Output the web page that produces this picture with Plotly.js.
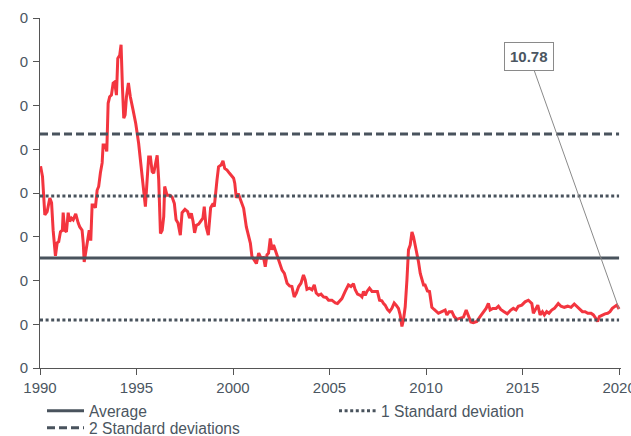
<!DOCTYPE html>
<html>
<head>
<meta charset="utf-8">
<script src="https://cdn.plot.ly/plotly-3.0.1.min.js"></script>
<style>html,body{margin:0;padding:0;background:#fff;}#chart{width:631px;height:436px;}</style>
</head>
<body>
<div id="chart"></div>
<script>
const years = [1990.03,1990.13,1990.25,1990.37,1990.51,1990.60,1990.68,1990.80,1990.89,1990.97,1991.06,1991.16,1991.20,1991.28,1991.37,1991.46,1991.54,1991.63,1991.72,1991.85,1991.98,1992.06,1992.18,1992.24,1992.29,1992.37,1992.46,1992.55,1992.63,1992.70,1992.78,1992.87,1992.96,1993.04,1993.13,1993.22,1993.27,1993.37,1993.46,1993.53,1993.61,1993.70,1993.79,1993.87,1993.96,1994.03,1994.13,1994.20,1994.27,1994.34,1994.41,1994.48,1994.58,1994.68,1994.82,1994.96,1995.11,1995.29,1995.37,1995.46,1995.55,1995.63,1995.72,1995.81,1995.89,1995.98,1996.07,1996.15,1996.24,1996.33,1996.41,1996.46,1996.58,1996.72,1996.84,1996.96,1997.05,1997.15,1997.27,1997.36,1997.51,1997.65,1997.75,1997.84,1997.93,1998.01,1998.10,1998.22,1998.32,1998.44,1998.51,1998.60,1998.72,1998.84,1998.97,1999.03,1999.17,1999.25,1999.38,1999.48,1999.57,1999.69,1999.82,1999.95,2000.03,2000.09,2000.17,2000.27,2000.41,2000.55,2000.69,2000.81,2000.90,2000.98,2001.10,2001.21,2001.33,2001.45,2001.58,2001.67,2001.76,2001.84,2001.93,2002.02,2002.10,2002.19,2002.28,2002.41,2002.54,2002.66,2002.80,2002.93,2003.05,2003.17,2003.28,2003.40,2003.52,2003.65,2003.74,2003.83,2003.96,2004.09,2004.21,2004.31,2004.43,2004.56,2004.69,2004.83,2004.95,2005.12,2005.30,2005.41,2005.55,2005.64,2005.81,2005.98,2006.11,2006.24,2006.33,2006.45,2006.59,2006.68,2006.76,2006.85,2006.94,2007.07,2007.20,2007.37,2007.48,2007.59,2007.71,2007.80,2007.88,2008.00,2008.11,2008.23,2008.35,2008.45,2008.57,2008.66,2008.75,2008.83,2008.92,2009.01,2009.09,2009.18,2009.27,2009.35,2009.44,2009.52,2009.61,2009.70,2009.78,2009.87,2009.95,2010.07,2010.18,2010.30,2010.42,2010.56,2010.64,2010.82,2010.99,2011.08,2011.20,2011.34,2011.46,2011.59,2011.77,2011.94,2012.08,2012.20,2012.32,2012.45,2012.63,2012.80,2012.97,2013.11,2013.23,2013.32,2013.46,2013.63,2013.75,2013.87,2014.04,2014.21,2014.39,2014.52,2014.66,2014.78,2014.96,2015.13,2015.30,2015.48,2015.56,2015.68,2015.79,2015.91,2016.03,2016.13,2016.25,2016.37,2016.51,2016.65,2016.77,2016.85,2016.99,2017.16,2017.34,2017.51,2017.68,2017.81,2017.98,2018.10,2018.24,2018.38,2018.55,2018.67,2018.79,2018.89,2018.98,2019.13,2019.27,2019.41,2019.53,2019.65,2019.79,2019.88,2020.00];
const values = [36.9,35.0,28.0,28.6,31.1,30.2,25.2,20.5,22.9,23.1,24.9,25.2,28.4,25.2,24.9,28.4,26.8,27.4,27.1,28.2,26.5,25.8,25.2,22.9,19.4,21.0,23.4,25.2,23.3,29.8,29.8,29.3,32.5,33.2,35.7,37.5,40.8,40.8,39.6,48.4,49.6,49.9,52.1,52.3,49.9,56.6,57.2,59.1,51.4,45.7,46.3,49.6,52.1,49.6,47.2,44.7,41.1,35.0,31.3,29.5,34.4,38.6,38.6,35.9,35.6,37.7,38.9,34.4,24.6,25.2,27.7,33.2,31.6,31.6,31.3,30.1,27.1,26.5,24.3,28.4,29.0,28.6,27.4,28.3,26.8,24.7,26.1,26.3,26.8,27.4,29.5,25.9,24.3,29.3,30.1,29.5,34.4,36.8,37.1,37.9,36.5,36.2,35.6,35.0,34.7,33.8,31.1,31.9,30.7,29.2,25.8,24.0,22.8,20.4,19.7,19.1,21.0,20.1,20.2,18.5,20.7,21.0,23.7,21.6,22.5,21.6,20.7,19.1,17.9,17.3,15.5,15.0,14.9,13.0,13.7,14.9,15.5,17.0,16.1,14.4,14.6,14.3,15.2,13.7,13.3,13.5,13.0,12.9,12.4,12.4,11.9,11.8,12.4,12.7,14.0,15.2,14.9,15.4,14.3,13.5,13.3,13.0,14.0,13.3,14.0,14.6,14.0,14.0,14.0,12.4,12.3,11.8,11.5,10.7,10.3,10.9,11.9,11.5,10.9,9.7,7.6,8.8,11.2,16.1,21.6,22.5,24.9,24.0,22.5,21.0,19.4,17.3,16.4,15.2,15.2,14.1,14.0,11.1,10.7,10.3,10.0,10.3,10.6,9.7,10.3,10.3,9.4,8.9,9.1,9.3,10.6,9.4,8.4,8.3,8.5,9.4,10.3,10.9,11.8,10.6,10.9,10.9,11.3,10.7,10.3,9.9,10.6,10.9,10.6,11.3,11.5,12.1,12.4,11.8,10.0,10.9,11.5,9.7,10.3,9.7,10.3,10.0,10.6,10.9,11.5,11.8,11.3,11.1,11.3,11.1,11.7,11.3,10.6,10.3,10.3,10.0,10.0,9.7,9.1,8.5,9.4,9.7,9.9,10.0,10.3,10.9,11.2,11.5,10.78];

const average = 20.1;
const oneSdLow = 8.78;
const oneSdHigh = 31.45;
const twoSdHigh = 42.8;
const refStart = 1990;
const refEnd = 2020;

const xTickVals = [1990, 1995, 2000, 2005, 2010, 2015, 2020];
const xTickText = ["1990", "1995", "2000", "2005", "2010", "2015", "2020"];
const yTickVals = [0, 8, 16, 24, 32, 40, 48, 56, 64];
const yTickText = ["0", "0", "0", "0", "0", "0", "0", "0", "0"];

const seriesNames = ["Average", "1 Standard deviation", "2 Standard deviations"];
const lastLabel = "10.78";

const refColor = "#49535d";
const textColor = "#4b5661";
const FONT = "Liberation Sans, Arial, sans-serif";

const traces = [
  {
    x: years, y: values, type: "scatter", mode: "lines",
    line: {color: "#f3353f", width: 3}, showlegend: false, hoverinfo: "skip"
  },
  {
    x: [refStart, refEnd], y: [average, average], type: "scatter", mode: "lines",
    name: seriesNames[0], line: {color: refColor, width: 3}, legend: "legend"
  },
  {
    x: [refStart, refEnd, null, refStart, refEnd], y: [oneSdHigh, oneSdHigh, null, oneSdLow, oneSdLow],
    type: "scatter", mode: "lines", name: seriesNames[1],
    line: {color: refColor, width: 3, dash: "3px,2.6px"}, legend: "legend3"
  },
  {
    x: [refStart, refEnd], y: [twoSdHigh, twoSdHigh], type: "scatter", mode: "lines",
    name: seriesNames[2], line: {color: refColor, width: 3, dash: "8px,4px"}, legend: "legend2"
  }
];

const legendCommon = {
  orientation: "h", xref: "container", yref: "container",
  xanchor: "left", yanchor: "middle",
  font: {family: FONT, size: 15.6, color: textColor},
  bgcolor: "rgba(0,0,0,0)", borderwidth: 0,
  itemwidth: 37,
  itemclick: false, itemdoubleclick: false
};

const layout = {
  width: 631, height: 436,
  margin: {l: 40, r: 10, t: 18, b: 68},
  paper_bgcolor: "#ffffff", plot_bgcolor: "#ffffff",
  font: {family: FONT, size: 15, color: textColor},
  showlegend: true,
  xaxis: {
    range: [1990, 2020.1], tickmode: "array", tickvals: xTickVals, ticktext: xTickText,
    showgrid: false, zeroline: false, showline: true, linecolor: "#555555", linewidth: 1,
    ticks: "outside", ticklen: 6, tickcolor: "#555555", tickwidth: 1,
    ticklabeloverflow: "allow",
    tickfont: {family: FONT, size: 15, color: textColor}
  },
  yaxis: {
    range: [0, 64], tickmode: "array", tickvals: yTickVals, ticktext: yTickText,
    showgrid: false, zeroline: false, showline: true, linecolor: "#555555", linewidth: 1,
    ticks: "outside", ticklen: 6, tickcolor: "#555555", tickwidth: 1,
    ticklabelstandoff: 2,
    tickfont: {family: FONT, size: 15, color: textColor}
  },
  legend: Object.assign({}, legendCommon, {x: 42 / 631, y: 1 - 411 / 436}),
  legend2: Object.assign({}, legendCommon, {x: 42 / 631, y: 1 - 428 / 436}),
  legend3: Object.assign({}, legendCommon, {x: 334 / 631, y: 1 - 411 / 436}),
  annotations: [{
    x: years[years.length - 1], y: values[values.length - 1], xref: "x", yref: "y",
    text: "<b>" + lastLabel + "</b>", showarrow: true, arrowhead: 0, arrowwidth: 1,
    arrowcolor: "#8a8a8a", ax: -90, ay: -253, standoff: 0,
    bordercolor: "#8a8a8a", borderwidth: 1, borderpad: 5, bgcolor: "#ffffff",
    font: {family: FONT, size: 15, color: textColor}
  }]
};

Plotly.newPlot("chart", traces, layout, {displayModeBar: false, staticPlot: true});
</script>
</body>
</html>
